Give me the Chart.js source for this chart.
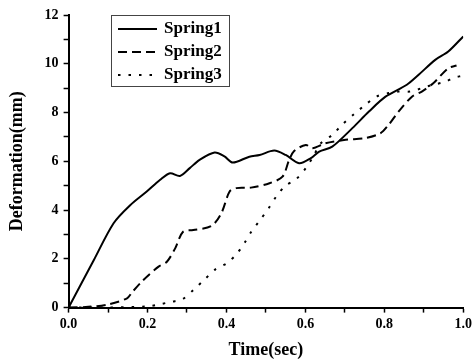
<!DOCTYPE html>
<html>
<head>
<meta charset="utf-8">
<script src="https://cdn.jsdelivr.net/npm/chart.js@4/dist/chart.umd.min.js"></script>
<style>
  html, body { margin: 0; padding: 0; background: #fff; }
  #wrap { width: 475px; height: 364px; }
</style>
</head>
<body>
<div id="wrap"><canvas id="c" width="475" height="364"></canvas></div>
<script>
const seriesNames = ["Spring1", "Spring2", "Spring3"];

const spring1Time = [0, 0.064, 0.114, 0.156, 0.198, 0.232, 0.257, 0.282, 0.307, 0.332, 0.37, 0.395, 0.416, 0.458, 0.484, 0.521, 0.55, 0.584, 0.614, 0.635, 0.668, 0.719, 0.761, 0.803, 0.857, 0.887, 0.929, 0.962, 1.0];
const spring1Def  = [0, 1.95, 3.46, 4.2, 4.76, 5.24, 5.51, 5.4, 5.72, 6.06, 6.36, 6.2, 5.95, 6.19, 6.26, 6.44, 6.26, 5.92, 6.13, 6.4, 6.6, 7.36, 8.04, 8.65, 9.14, 9.55, 10.16, 10.5, 11.12];

const spring2Time = [0, 0.05, 0.1, 0.148, 0.16, 0.185, 0.228, 0.249, 0.27, 0.29, 0.316, 0.362, 0.387, 0.408, 0.425, 0.462, 0.509, 0.542, 0.559, 0.572, 0.601, 0.618, 0.651, 0.702, 0.752, 0.79, 0.811, 0.836, 0.87, 0.895, 0.924, 0.962, 0.983];
const spring2Def  = [0, 0.03, 0.13, 0.38, 0.61, 1.06, 1.68, 1.88, 2.43, 3.11, 3.18, 3.35, 3.87, 4.76, 4.9, 4.92, 5.1, 5.37, 6.06, 6.43, 6.67, 6.54, 6.74, 6.88, 6.95, 7.15, 7.5, 8.04, 8.65, 8.86, 9.2, 9.82, 9.93];

const spring3Time = [0, 0.1, 0.2, 0.232, 0.261, 0.288, 0.316, 0.345, 0.372, 0.401, 0.426, 0.446, 0.463, 0.485, 0.506, 0.525, 0.549, 0.576, 0.601, 0.62, 0.639, 0.668, 0.693, 0.723, 0.752, 0.781, 0.811, 0.836, 0.866, 0.895, 0.924, 0.952, 0.979, 0.995];
const spring3Def  = [0, 0, 0.05, 0.14, 0.24, 0.34, 0.72, 1.16, 1.57, 1.82, 2.2, 2.66, 3.11, 3.59, 4.05, 4.53, 4.99, 5.26, 5.72, 6.2, 6.74, 7.08, 7.5, 7.93, 8.32, 8.66, 8.8, 8.86, 8.86, 9.0, 9.14, 9.25, 9.44, 9.5];

const xTickLabels = ["0.0", "0.2", "0.4", "0.6", "0.8", "1.0"];
const yTickLabels = ["0", "2", "4", "6", "8", "10", "12"];

const xTitle = "Time(sec)";
const yTitle = "Deformation(mm)";

const dashStyles = [[], [9, 5], [2.5, 8]];

function toPoints(ts, vs) { return ts.map((t, i) => ({ x: t, y: vs[i] })); }

const FONT = "'Liberation Serif', 'Times New Roman', serif";

const legendBox = {
  id: 'legendBox',
  afterDraw(chart) {
    const ctx = chart.ctx;
    const x0 = 111, y0 = 15, w = 118, h = 71;
    ctx.save();
    ctx.strokeStyle = '#444';
    ctx.lineWidth = 1;
    ctx.strokeRect(x0 + 0.5, y0 + 0.5, w, h);
    chart.data.datasets.forEach((ds, i) => {
      const cy = 29 + i * 23;
      ctx.beginPath();
      ctx.setLineDash(ds.borderDash || []);
      ctx.lineWidth = 2;
      ctx.strokeStyle = '#000';
      ctx.moveTo(118, cy);
      ctx.lineTo(157, cy);
      ctx.stroke();
      ctx.setLineDash([]);
      ctx.fillStyle = '#000';
      ctx.font = "bold 17px " + FONT;
      ctx.textBaseline = 'middle';
      ctx.textAlign = 'left';
      ctx.fillText(ds.label, 164, cy);
    });
    ctx.restore();
  }
};

const datasets = [
  { label: seriesNames[0], data: toPoints(spring1Time, spring1Def), borderDash: dashStyles[0] },
  { label: seriesNames[1], data: toPoints(spring2Time, spring2Def), borderDash: dashStyles[1] },
  { label: seriesNames[2], data: toPoints(spring3Time, spring3Def), borderDash: dashStyles[2] }
].map(d => Object.assign(d, {
  borderColor: '#000',
  backgroundColor: '#000',
  borderWidth: 2,
  pointRadius: 0,
  tension: 0.3,
  fill: false
}));

new Chart(document.getElementById('c'), {
  type: 'line',
  data: { datasets },
  plugins: [legendBox],
  options: {
    responsive: false,
    animation: false,
    events: [],
    layout: { padding: { left: 7, right: 7, top: 15, bottom: 3 } },
    plugins: { legend: { display: false }, tooltip: { enabled: false } },
    scales: {
      x: {
        type: 'linear',
        min: 0, max: 1,
        border: { display: true, color: '#000', width: 2 },
        grid: { display: true, drawOnChartArea: false, drawTicks: true, tickLength: 5, tickColor: '#000', tickWidth: 1.5 },
        ticks: {
          stepSize: 0.1,
          padding: 3,
          color: '#000',
          maxRotation: 0,
          autoSkip: false,
          font: { family: FONT, size: 14, weight: 'bold' },
          callback: (v) => {
            const k = Math.round(v * 10);
            return k % 2 === 0 ? xTickLabels[k / 2] : '';
          }
        },
        title: { display: true, text: xTitle, color: '#000', padding: { top: 4, bottom: 0 }, font: { family: FONT, size: 18, weight: 'bold' } }
      },
      y: {
        min: 0, max: 12,
        border: { display: true, color: '#000', width: 2 },
        grid: { display: true, drawOnChartArea: false, drawTicks: true, tickLength: 5, tickColor: '#000', tickWidth: 1.5 },
        ticks: {
          stepSize: 1,
          padding: 5,
          color: '#000',
          autoSkip: false,
          font: { family: FONT, size: 14, weight: 'bold' },
          callback: (v) => (Math.round(v) % 2 === 0 ? yTickLabels[Math.round(v) / 2] : '')
        },
        title: { display: true, text: yTitle, color: '#000', padding: { top: 0, bottom: 11 }, font: { family: FONT, size: 18, weight: 'bold' } }
      }
    }
  }
});
</script>
</body>
</html>
